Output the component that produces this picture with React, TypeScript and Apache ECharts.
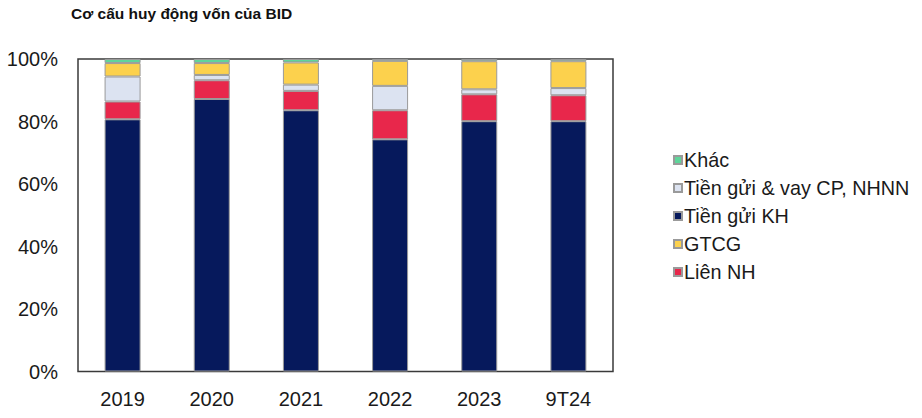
import React, { useEffect, useRef } from "react";
import * as echarts from "echarts";

const categories = ["2019", "2020", "2021", "2022", "2023", "9T24"];
const tienGuiKH = [80.7, 87.2, 83.6, 74.3, 80.1, 80.1];
const lienNH = [5.7, 6.0, 6.2, 9.3, 8.6, 8.3];
const tienGuiCP = [8.0, 1.7, 2.0, 7.8, 1.6, 2.3];
const gtcg = [4.3, 3.8, 7.1, 8.0, 9.0, 8.6];
const khac = [1.3, 1.3, 1.1, 0.6, 0.7, 0.7];
const legendOrder = ["Khác", "Tiền gửi & vay CP, NHNN", "Tiền gửi KH", "GTCG", "Liên NH"];

const FONT = "'Liberation Sans', Arial, sans-serif";

export default function App() {
  const ref = useRef<HTMLDivElement>(null);
  useEffect(() => {
    if (!ref.current) return;
    const chart = echarts.init(ref.current, undefined, { renderer: "svg" });
    const mk = (name: string, data: number[], color: string) => ({
      name,
      type: "bar",
      stack: "total",
      data,
      barWidth: 36,
      itemStyle: { color, borderColor: "#9a9a9a", borderWidth: 1 },
    });
    chart.setOption({
      animation: false,
      textStyle: { fontFamily: FONT },
      title: {
        text: "Cơ cấu huy động vốn của BID",
        left: 71,
        top: 5,
        padding: 0,
        textStyle: { fontFamily: FONT, fontSize: 15.5, fontWeight: "bold", color: "#111" },
      },
      legend: {
        data: legendOrder,
        orient: "vertical",
        left: 673,
        top: 150,
        padding: 0,
        itemWidth: 8,
        itemHeight: 8,
        itemGap: 8,
        icon: "rect",
        textStyle: { fontFamily: FONT, fontSize: 19.8, color: "#1a1a1a", padding: [0, 0, 0, -3] },
      },
      grid: {
        left: 78,
        right: 309,
        top: 59,
        bottom: 46.5,
        show: true,
        borderColor: "#3a3a3a",
        borderWidth: 1.5,
      },
      xAxis: {
        type: "category",
        data: categories,
        axisLine: { show: false },
        axisTick: { show: false },
        axisLabel: { fontFamily: FONT, fontSize: 20, color: "#1a1a1a", margin: 17 },
      },
      yAxis: {
        type: "value",
        min: 0,
        max: 100,
        interval: 20,
        axisLine: { show: false },
        axisTick: { show: false },
        splitLine: { show: false },
        axisLabel: { fontFamily: FONT, fontSize: 20, color: "#1a1a1a", margin: 20, formatter: "{value}%" },
      },
      series: [
        mk("Tiền gửi KH", tienGuiKH, "#06195c"),
        mk("Liên NH", lienNH, "#e8274b"),
        mk("Tiền gửi & vay CP, NHNN", tienGuiCP, "#dce3f1"),
        mk("GTCG", gtcg, "#fcd14d"),
        mk("Khác", khac, "#5fd59a"),
      ],
    });
    return () => chart.dispose();
  }, []);
  return (
    <div
      ref={ref}
      style={{ position: "fixed", left: 0, top: 0, width: 922, height: 418, background: "#fff" }}
    />
  );
}
